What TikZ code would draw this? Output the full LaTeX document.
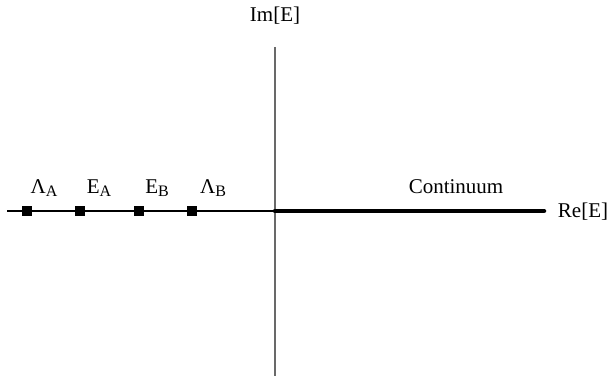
\documentclass[tikz,border=0pt]{standalone}
\usepackage{fontspec}
\setmainfont{Liberation Serif}
\newcommand{\lowsub}[1]{\raisebox{-0.35ex}{\fontsize{16}{16}\selectfont #1}}
\begin{document}
\begin{tikzpicture}[x=1pt,y=-1pt,
  lbl/.style={font=\fontsize{21}{21}\selectfont, inner sep=0pt},
  pt/.style={fill=black, minimum size=10pt, inner sep=0pt, draw=none}]
\useasboundingbox (0,0) rectangle (610,377);
\definecolor{axgray}{RGB}{105,105,105}
% coordinates
\coordinate (vtop) at (275,47);
\coordinate (vbot) at (275,376);
\coordinate (hleft) at (7,211);
\coordinate (o) at (275,211);
\coordinate (hright) at (544,211);
% axes
\draw[axgray, line width=1.2pt] (vtop) -- (vbot);
\draw[black, line width=1.2pt] (hleft) -- (o);
\draw[black, line width=4.5pt, line cap=round] (o) -- (hright);
% points
\node[pt] (la) at (27,211) {};
\node[pt] (ea) at (80,211) {};
\node[pt] (eb) at (139,211) {};
\node[pt] (lb) at (192,211) {};
% labels
\node[lbl] (tla) at (44,188) {Λ\lowsub{A}};
\node[lbl] (tea) at (99,188) {E\lowsub{A}};
\node[lbl] (teb) at (157,188) {E\lowsub{B}};
\node[lbl] (tlb) at (213,188) {Λ\lowsub{B}};
\node[lbl] (cont) at (456,187) {Continuum};
\node[lbl] (re) at (583,212) {Re[E]};
\node[lbl] (im) at (275,16) {Im[E]};
\end{tikzpicture}
\end{document}
